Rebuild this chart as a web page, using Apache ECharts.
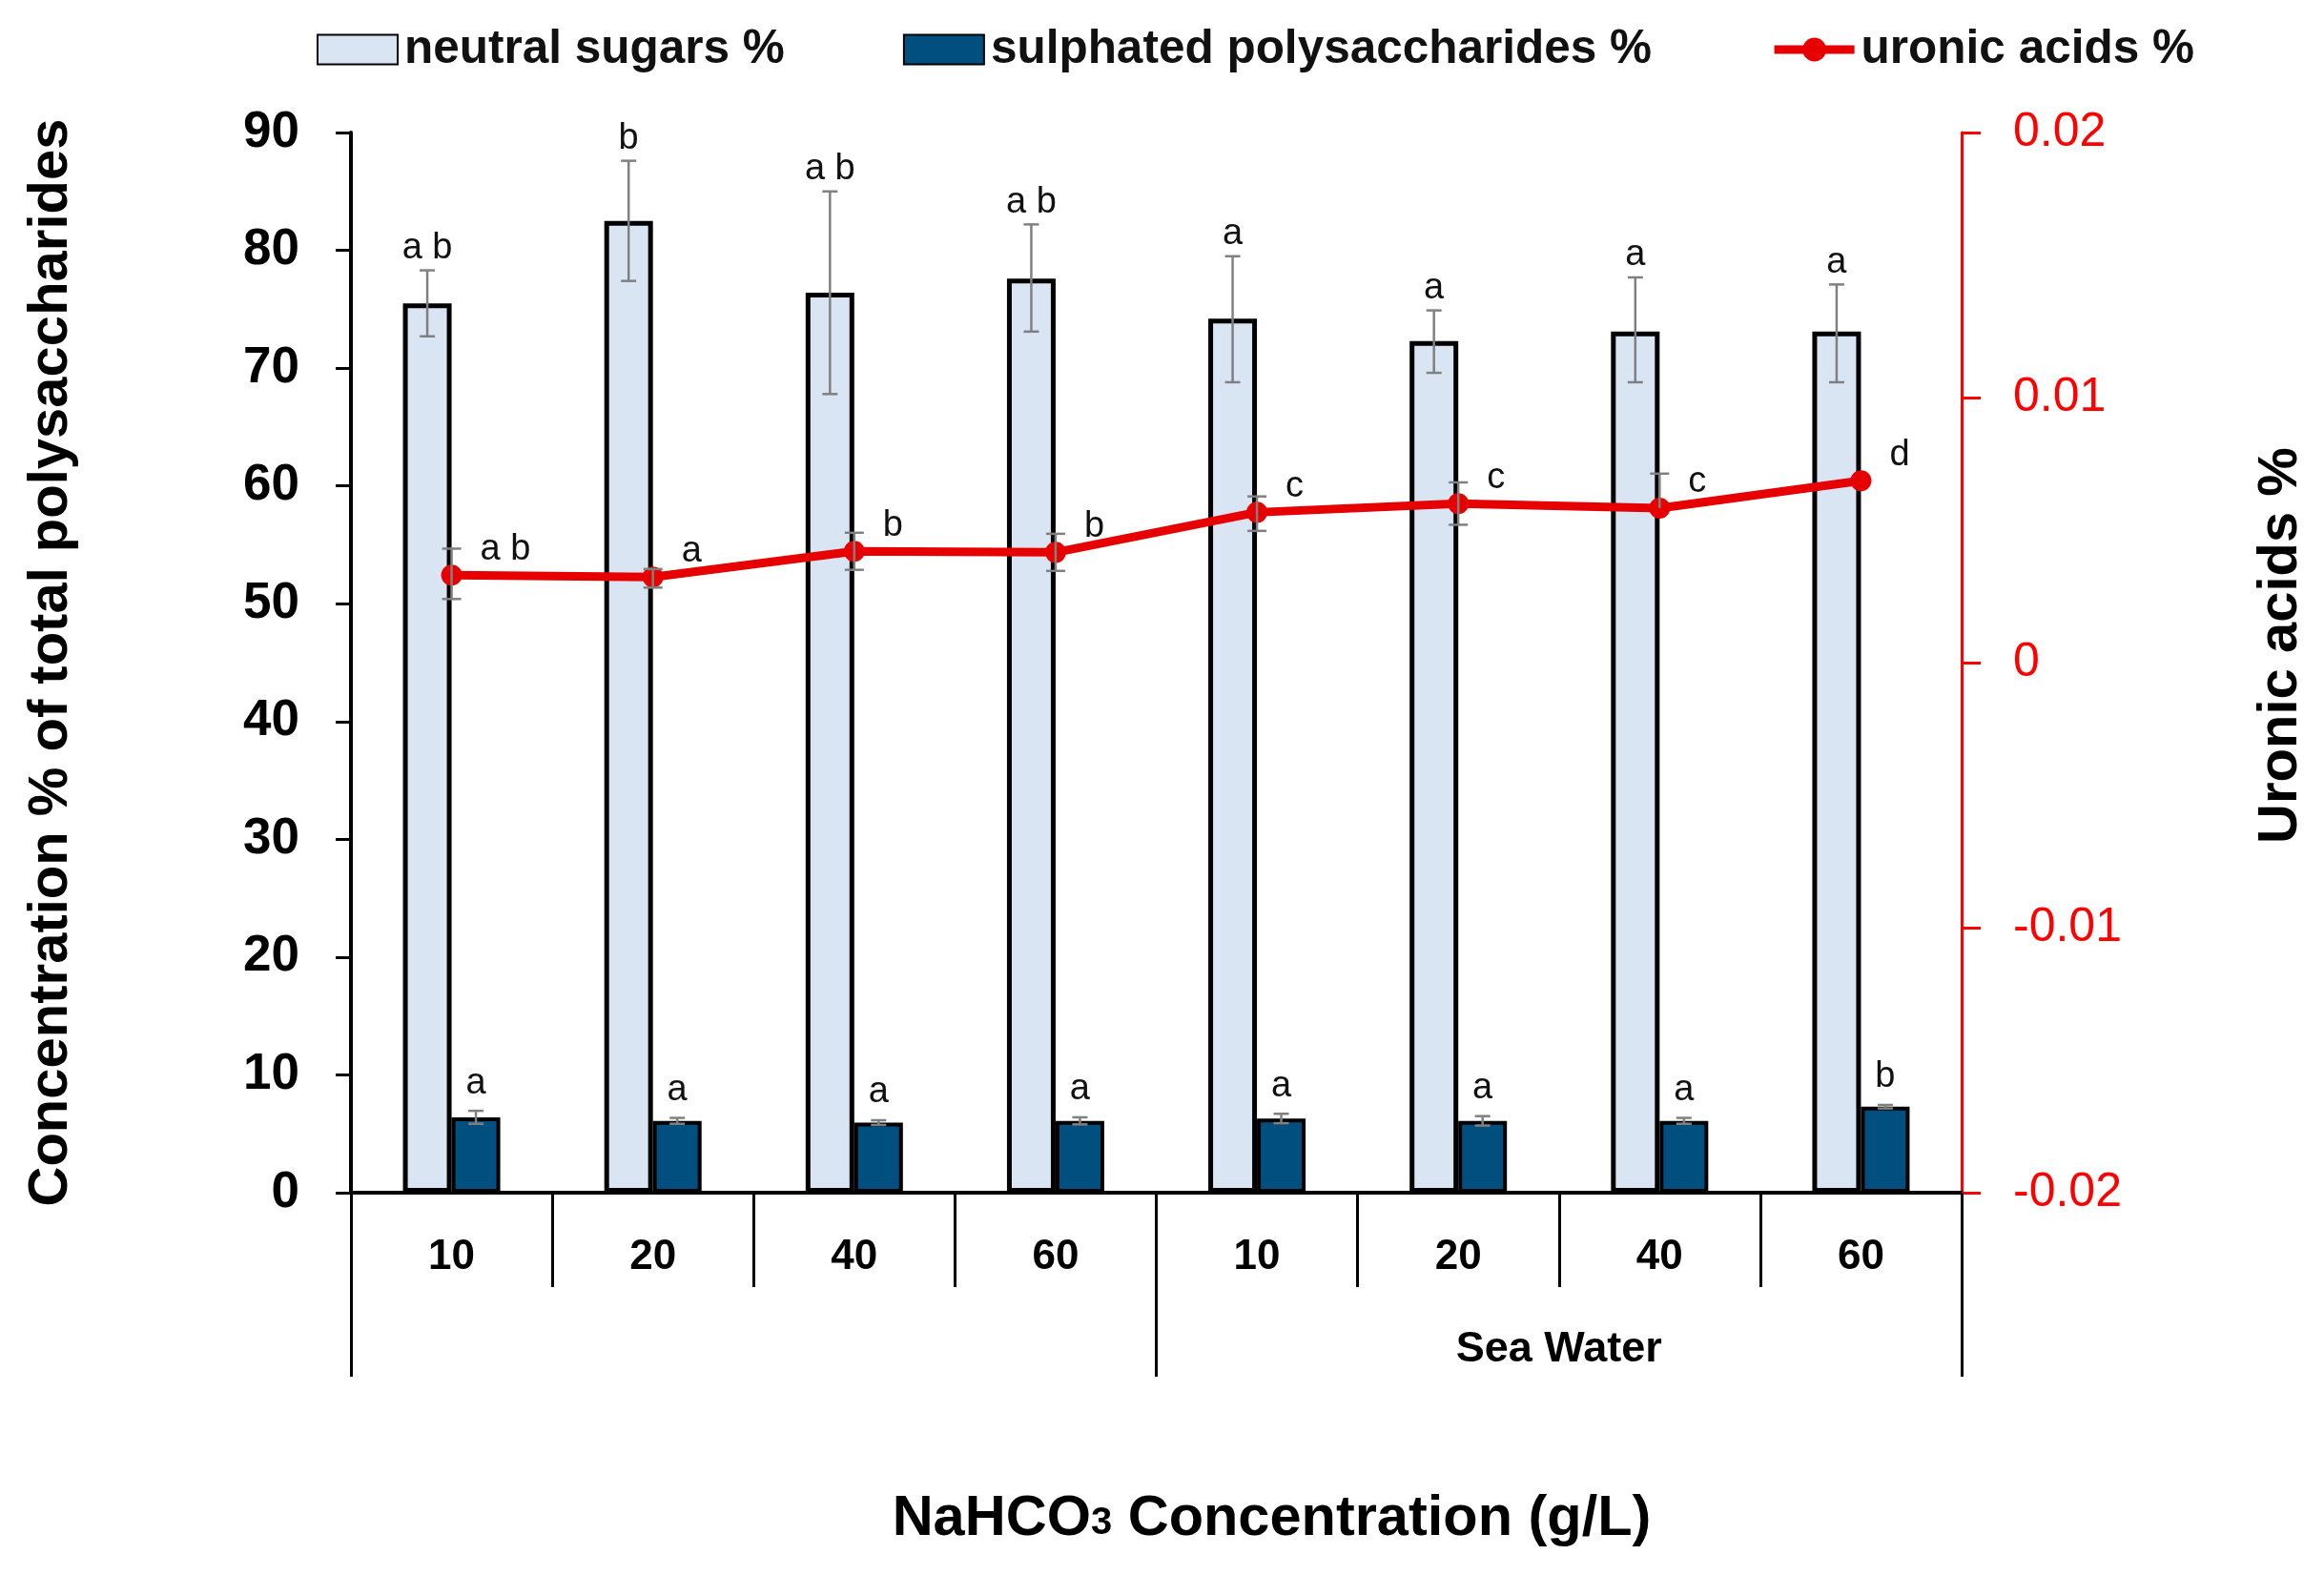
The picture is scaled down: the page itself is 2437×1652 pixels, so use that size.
<!DOCTYPE html>
<html>
<head>
<meta charset="utf-8">
<title>Polysaccharide composition</title>
<script src="https://cdn.jsdelivr.net/npm/echarts@6/dist/echarts.min.js"></script>
<style>
	html, body { margin: 0; padding: 0; background: #fff; }
	#chart { width: 2437px; height: 1652px; }
</style>
</head>
<body>
<div id="chart"></div>
<script type="text/javascript">
	// data
	var categories = ['10', '20', '40', '60', '10', '20', '40', '60'];
	var groups = ['', 'Sea Water'];
	var neutral = [75.5, 82.5, 76.4, 77.6, 74.2, 72.3, 73.1, 73.1];
	var neutralErrUp = [2.8, 5.1, 8.6, 4.6, 5.3, 2.6, 4.6, 4.0];
	var neutralErrDown = [2.8, 5.1, 8.6, 4.5, 5.4, 2.7, 4.3, 4.3];
	var neutralLetters = ['a b', 'b', 'a b', 'a b', 'a', 'a', 'a', 'a'];
	var sulphated = [6.4, 6.1, 5.95, 6.1, 6.3, 6.1, 6.1, 7.3];
	var sulphatedErr = [0.55, 0.25, 0.2, 0.3, 0.4, 0.4, 0.25, 0.15];
	var sulphatedLetters = ['a', 'a', 'a', 'a', 'a', 'a', 'a', 'b'];
	var uronic = [0.0033, 0.00323, 0.0042, 0.00416, 0.00567, 0.006, 0.00583, 0.00686];
	var uronicErrUp = [0.001, 0.0003, 0.0007, 0.0007, 0.0006, 0.0008, 0.0013, 0];
	var uronicErrDown = [0.0009, 0.0004, 0.0007, 0.0007, 0.0007, 0.0008, 0, 0];
	var uronicLetters = ['a b', 'a', 'b', 'b', 'c', 'c', 'c', 'd'];

	var FONT = 'Liberation Sans';
	var ERR_COLOR = '#808080';

	function errLines(x, yTop, yBot, cap, drawTop, drawBot) {
		var st = {stroke: ERR_COLOR, lineWidth: 2.5};
		var out = [{type: 'line', shape: {x1: x, y1: yTop, x2: x, y2: yBot}, style: st}];
		if (drawTop) out.push({type: 'line', shape: {x1: x - cap, y1: yTop, x2: x + cap, y2: yTop}, style: st});
		if (drawBot) out.push({type: 'line', shape: {x1: x - cap, y1: yBot, x2: x + cap, y2: yBot}, style: st});
		return out;
	}

	// error bar + letter for a bar, shifted onto its bar inside the category
	function barErr(letters, shift, lift) {
		return function (params, api) {
			var i = api.value(0), v = api.value(1);
			var top = api.coord([i, v + api.value(2)]);
			var bot = api.coord([i, v - api.value(3)]);
			var x = top[0] + shift;
			var kids = errLines(x, top[1], bot[1], 8, true, true);
			kids.push({
				type: 'text',
				style: {
					text: letters[params.dataIndex], x: x, y: top[1] - lift,
					fill: '#111', fontSize: 38, fontFamily: FONT,
					align: 'center', verticalAlign: 'bottom'
				}
			});
			return {type: 'group', children: kids};
		};
	}

	function lineErr(params, api) {
		var i = api.value(0), v = api.value(1);
		var up = api.value(2), dn = api.value(3);
		var mid = api.coord([i, v]);
		var top = api.coord([i, v + up]);
		var bot = api.coord([i, v - dn]);
		var kids = [];
		if (up > 0 || dn > 0) kids = errLines(mid[0], top[1], bot[1], 10, up > 0, dn > 0);
		kids.push({
			type: 'text',
			style: {
				text: uronicLetters[params.dataIndex], x: mid[0] + 30, y: mid[1] - 27,
				fill: '#111', fontSize: 38, fontFamily: FONT,
				align: 'left', verticalAlign: 'middle'
			}
		});
		return {type: 'group', children: kids};
	}

	var neutralErrData = [], sulphatedErrData = [], uronicErrData = [];
	for (var i = 0; i < categories.length; i++) {
		neutralErrData.push([i, neutral[i], neutralErrUp[i], neutralErrDown[i]]);
		sulphatedErrData.push([i, sulphated[i], sulphatedErr[i], sulphatedErr[i]]);
		uronicErrData.push([i, uronic[i], uronicErrUp[i], uronicErrDown[i]]);
	}

	var option = {
		backgroundColor: '#fff',
		animation: false,
		legend: {
			left: 327,
			top: 22,
			itemWidth: 84,
			itemHeight: 31,
			itemGap: 124,
			data: [
				{name: 'neutral sugars %', icon: 'rect'},
				{name: 'sulphated polysaccharides %', icon: 'rect'},
				{name: 'uronic acids %', lineStyle: {width: 9}}
			],
			textStyle: {
				fontFamily: FONT, fontWeight: 'bold', fontSize: 49.5, color: '#111',
				lineHeight: 50, padding: [0, 0, 0, 2]
			}
		},
		grid: {left: 368, right: 380, top: 139, bottom: 401, containLabel: false},
		xAxis: [
			{
				type: 'category',
				data: categories,
				position: 'bottom',
				boundaryGap: true,
				axisLine: {onZero: false, lineStyle: {color: '#000', width: 4}},
				axisTick: {show: true, interval: 0, length: 99, lineStyle: {color: '#000', width: 3}},
				axisLabel: {
					interval: 0, margin: 46, color: '#000',
					fontFamily: FONT, fontWeight: 'bold', fontSize: 44
				},
				name: '{m|NaHCO}{s|3}{m| Concentration (g/L)}',
				nameLocation: 'middle',
				nameGap: 311,
				nameTextStyle: {
					padding: [0, 0, 0, 242],
					rich: {
						m: {fontFamily: FONT, fontWeight: 'bold', fontSize: 59.5, color: '#000', lineHeight: 64},
						s: {fontFamily: FONT, fontWeight: 'bold', fontSize: 40, color: '#000', lineHeight: 64, padding: [8, 0, 0, 0]}
					}
				}
			},
			{
				type: 'category',
				data: groups,
				position: 'bottom',
				boundaryGap: true,
				axisLine: {show: false, onZero: false},
				axisTick: {show: true, interval: 0, length: 193, lineStyle: {color: '#000', width: 3}},
				axisLabel: {
					interval: 0, margin: 142, color: '#000',
					fontFamily: FONT, fontWeight: 'bold', fontSize: 45
				}
			}
		],
		yAxis: [
			{
				type: 'value',
				min: 0,
				max: 90,
				interval: 10,
				splitLine: {show: false},
				axisLine: {show: true, lineStyle: {color: '#000', width: 4}},
				axisTick: {show: true, length: 16, lineStyle: {color: '#000', width: 3}},
				axisLabel: {margin: 54, color: '#000', fontFamily: FONT, fontWeight: 'bold', fontSize: 53},
				name: 'Concentration % of total polysaccharides',
				nameLocation: 'middle',
				nameRotate: 90,
				nameGap: 285,
				nameTextStyle: {fontFamily: FONT, fontWeight: 'bold', fontSize: 58, color: '#000'}
			},
			{
				type: 'value',
				min: -0.02,
				max: 0.02,
				interval: 0.01,
				position: 'right',
				splitLine: {show: false},
				axisLine: {show: true, onZero: false, lineStyle: {color: '#ff0000', width: 3}},
				axisTick: {show: true, length: 20, lineStyle: {color: '#ff0000', width: 3}},
				axisLabel: {
					margin: 54, color: '#ff0000', fontFamily: FONT, fontSize: 50,
					formatter: function (v) { return String(Number(v.toFixed(4))); }
				},
				name: 'Uronic acids %',
				nameLocation: 'middle',
				nameRotate: 90,
				nameGap: 306,
				nameTextStyle: {
					fontFamily: FONT, fontWeight: 'bold', fontSize: 58, color: '#000',
					padding: [0, 0, 0, 36]
				}
			}
		],
		series: [
			{
				name: 'neutral sugars %',
				type: 'bar',
				data: neutral,
				barWidth: 51,
				barGap: '0%',
				itemStyle: {color: '#dae5f4', borderColor: '#000', borderWidth: 5}
			},
			{
				name: 'sulphated polysaccharides %',
				type: 'bar',
				data: sulphated,
				barWidth: 51,
				barGap: '0%',
				itemStyle: {color: '#004f7e', borderColor: '#000', borderWidth: 4}
			},
			{
				type: 'custom',
				renderItem: barErr(neutralLetters, -25.5, 4),
				data: neutralErrData,
				z: 4,
				silent: true
			},
			{
				type: 'custom',
				renderItem: barErr(sulphatedLetters, 25.5, 10),
				data: sulphatedErrData,
				z: 4,
				silent: true
			},
			{
				name: 'uronic acids %',
				type: 'line',
				yAxisIndex: 1,
				data: uronic,
				symbol: 'circle',
				symbolSize: 22,
				color: '#e60000',
				lineStyle: {color: '#e60000', width: 9},
				itemStyle: {color: '#e60000'},
				z: 5
			},
			{
				type: 'custom',
				yAxisIndex: 1,
				renderItem: lineErr,
				data: uronicErrData,
				z: 6,
				silent: true
			}
		]
	};

	var chart = echarts.init(document.getElementById('chart'));
	chart.setOption(option);
</script>
</body>
</html>
